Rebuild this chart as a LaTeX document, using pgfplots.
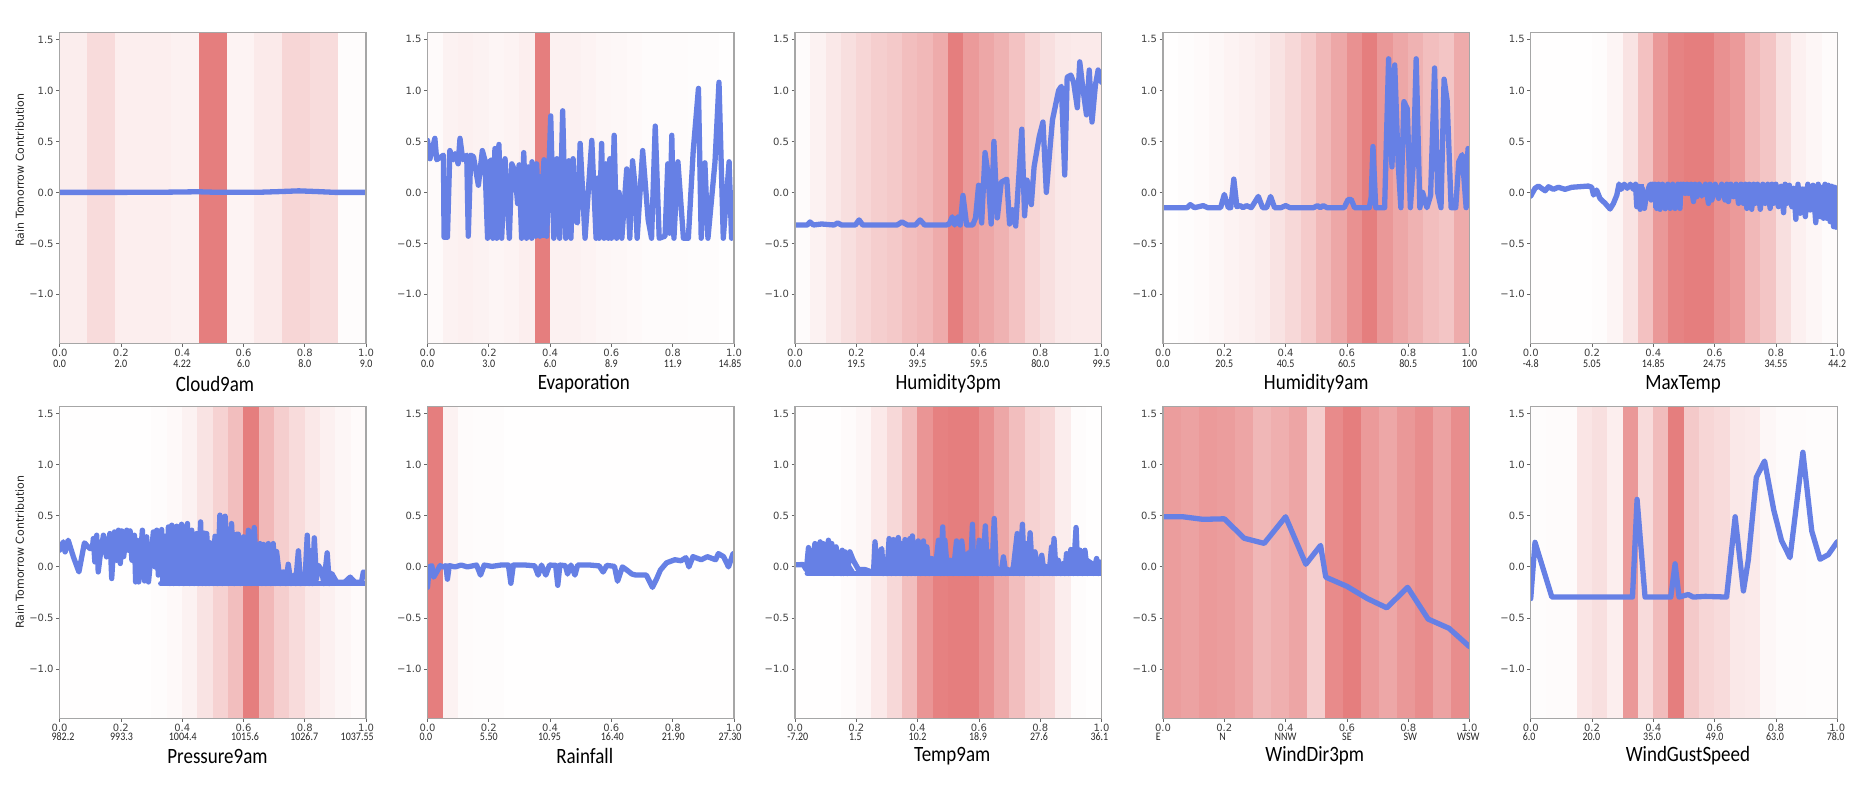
\documentclass[border=0pt]{standalone}
\usepackage{fontspec}
\setmainfont{DejaVu Sans}
\newfontfamily\carlito{Carlito}
\usepackage{pgfplots}
\pgfplotsset{compat=1.18}

\definecolor{bandred}{HTML}{E57E7E}
\definecolor{lineblue}{HTML}{6680E5}

% one px of the reference = 1pt here
\newcommand\ttl[1]{\scalebox{1}[1.15]{#1}}
\pgfplotsset{
  panel/.style n args={3}{
    at={(#1pt,#2pt)}, anchor=south west, scale only axis,
    width=306.5pt, height=#3pt,
    xmin=0, xmax=1, ymin=-1.48, ymax=1.57,
    xtick={0,0.2,0.4,0.6,0.8,1},
    xticklabels={0.0,0.2,0.4,0.6,0.8,1.0},
    ytick={-1,-0.5,0,0.5,1,1.5},
    yticklabels={−1.0,−0.5,0.0,0.5,1.0,1.5},
    tick align=outside, tick pos=left, axis on top,
    major tick length=3.5pt,
    tick style={black!60,line width=.8pt},
    axis line style={black!35,line width=1.3pt},
    tick label style={font=\fontsize{10}{10}\selectfont,text=black!75},
    xticklabel style={yshift=1pt},
    yticklabel style={xshift=1pt},
    xlabel style={font=\carlito\fontsize{19}{20}\selectfont,anchor=center},
    ylabel style={font=\fontsize{11}{12}\selectfont,anchor=center,text=black!85},
  },
  top/.style={xlabel style={at={(axis description cs:#1,-.131)}},
    ylabel style={at={(axis description cs:-.13,.557)}}},
  bot/.style={xlabel style={at={(axis description cs:#1,-.121)}},
    ylabel style={at={(axis description cs:-.13,.532)}}},
  sub/.style 2 args={after end axis/.code={%
    \foreach \p/\t in {#2}{%
      \node[font=\carlito\fontsize{10}{10}\selectfont,text=black!85]
        at (axis description cs:\p,0) [yshift=-#1pt] {\ttl{\t}};}}},
  series/.style={lineblue,line width=5.3pt,line join=round,line cap=round,no markers},
  solid part/.style={forget plot,fill=lineblue,draw=none,no markers},
}

% equal-width bins, shade of each bin in percent of the darkest red
\newcounter{bandno}
\newcommand\bands[2]{%
  \setcounter{bandno}{0}%
  \pgfplotsforeachungrouped \pct in {#2}{%
    \pgfmathsetmacro\xa{\thebandno/#1}%
    \stepcounter{bandno}%
    \pgfmathsetmacro\xb{\thebandno/#1}%
    \edef\doband{\noexpand\addplot[forget plot,draw=bandred!\pct,fill=bandred!\pct,line width=.3pt]
      coordinates {(\xa,-1.48)(\xb,-1.48)(\xb,1.57)(\xa,1.57)} -- cycle;}%
    \doband}}

\begin{document}
\begin{tikzpicture}
\path[use as bounding box] (0,0) rectangle (1862pt,794pt);

% ---------- top row ----------
\begin{axis}[panel={59.6}{450.7}{311},top=.507,xlabel={\ttl{Cloud9am}},ylabel={Rain Tomorrow Contribution},
  sub={20.7}{0/0.0,.2/2.0,.4/4.22,.6/6.0,.8/8.0,1/9.0}]
\bands{11}{14,28,13,13,11,100,9,16,32,27,2}
\addplot[series] coordinates {(0,0)(.2,0)(.35,.002)(.45,.006)(.5,.002)(.65,.001)(.72,.008)(.78,.015)(.84,.008)(.9,0)(1,0)};
\end{axis}

\begin{axis}[panel={427.5}{450.7}{311},top=.51,xlabel={\ttl{Evaporation}},
  sub={20.7}{0/0.0,.2/3.0,.4/6.0,.6/8.9,.8/11.9,.987/14.85}]
\bands{20}{4,10,12,10,8,9,13,100,11,11,9,7,6,5,3,3,3,2,2,1}
\addplot[solid part] coordinates {(.196,-.45)(.25,-.45)(.25,.28)(.196,.28)} -- cycle;
\addplot[solid part] coordinates {(.3,-.45)(.395,-.45)(.395,.18)(.3,.18)} -- cycle;
\addplot[series] coordinates {(0,.51)(.008,.33)(.024,.53)(.03,.32)(.052,.365)(.054,-.44)(.065,-.44)(.073,.41)(.084,.32)(.09,.38)(.1,.28)(.106,.53)(.115,.32)(.128,.365)(.133,-.43)(.141,.365)(.15,.35)(.166,.07)(.179,.41)(.187,.32)(.196,-.45)(.202,.3)(.209,.32)(.213,-.45)(.22,.43)(.226,-.45)(.233,.47)(.242,-.45)(.253,.33)(.267,-.45)(.275,.28)(.285,.21)(.294,-.11)(.299,.27)(.307,-.45)(.314,.39)(.323,-.45)(.329,.25)(.34,-.45)(.341,.3)(.353,-.43)(.356,.28)(.367,-.43)(.38,.32)(.389,-.43)(.402,.75)(.412,-.45)(.422,.33)(.431,-.45)(.441,.8)(.451,-.45)(.461,.31)(.468,-.45)(.475,.33)(.482,-.27)(.489,-.3)(.498,.48)(.514,-.45)(.536,.51)(.55,-.45)(.554,.14)(.56,-.45)(.568,.48)(.576,-.45)(.582,.28)(.59,-.45)(.595,.33)(.6,-.45)(.609,.56)(.617,-.45)(.625,.0)(.634,-.45)(.65,.23)(.66,-.45)(.669,.31)(.676,.1)(.684,-.45)(.702,.41)(.72,-.27)(.731,-.45)(.743,.65)(.756,-.45)(.775,-.43)(.784,.28)(.79,-.4)(.797,.56)(.804,-.45)(.817,.3)(.835,-.45)(.851,-.45)(.867,.41)(.884,1.02)(.893,-.45)(.905,.29)(.915,-.45)(.938,.3)(.951,1.08)(.965,-.45)(.984,.3)(.992,-.45)(1,.0)};
\end{axis}

\begin{axis}[panel={795}{450.7}{311},top=.5,xlabel={\ttl{Humidity3pm}},
  sub={20.7}{0/0.0,.2/19.5,.4/39.5,.6/59.5,.8/80.0,1/99.5}]
\bands{20}{3,10,18,25,32,38,42,50,55,65,100,78,68,60,47,32,25,18,16,16}
\addplot[series] coordinates {(0,-.32)(.04,-.32)(.049,-.29)(.06,-.32)(.087,-.31)(.127,-.32)(.139,-.3)(.152,-.32)(.197,-.32)(.209,-.27)(.221,-.32)(.333,-.32)(.349,-.29)(.367,-.32)(.393,-.32)(.408,-.27)(.423,-.32)(.493,-.32)(.503,-.31)(.513,-.24)(.521,-.32)(.531,-.24)(.539,-.32)(.548,-.03)(.56,-.32)(.58,-.32)(.589,-.25)(.599,.07)(.609,-.3)(.62,.39)(.629,.2)(.64,-.31)(.649,.5)(.66,-.25)(.673,.1)(.691,.13)(.7,-.31)(.709,-.17)(.72,-.33)(.74,.62)(.749,-.23)(.757,.12)(.771,-.12)(.78,.25)(.797,.55)(.809,.69)(.82,.0)(.831,.4)(.84,.71)(.86,1.0)(.869,1.04)(.88,.17)(.888,1.13)(.9,1.15)(.909,1.08)(.921,.83)(.929,1.28)(.94,1.0)(.951,.76)(.96,1.2)(.969,.69)(.98,1.05)(.989,1.2)(1,1.08)};
\end{axis}

\begin{axis}[panel={1163}{450.7}{311},top=.5,xlabel={\ttl{Humidity9am}},
  sub={20.7}{0/0.0,.2/20.5,.4/40.5,.6/60.5,.8/80.5,1/100}]
\bands{20}{1,2,4,6,9,12,15,22,30,40,55,68,85,100,80,68,60,50,45,65}
\addplot[series] coordinates {(0,-.15)(.079,-.15)(.089,-.12)(.103,-.15)(.131,-.13)(.146,-.15)(.188,-.15)(.2,-.02)(.213,-.15)(.221,-.15)(.231,.13)(.241,-.14)(.252,-.13)(.261,-.15)(.272,-.13)(.288,-.15)(.311,-.04)(.325,-.15)(.338,-.15)(.351,-.04)(.364,-.15)(.385,-.15)(.4,-.13)(.414,-.15)(.491,-.15)(.504,-.13)(.513,-.15)(.523,-.13)(.535,-.15)(.591,-.15)(.604,-.07)(.614,-.07)(.625,-.15)(.673,-.15)(.679,-.05)(.685,.45)(.694,-.15)(.723,-.15)(.736,1.31)(.747,.25)(.756,1.25)(.767,.3)(.776,-.15)(.786,.89)(.797,.82)(.807,-.15)(.817,.3)(.826,1.31)(.838,-.15)(.847,0)(.861,-.15)(.873,-.03)(.886,1.22)(.896,0)(.907,-.15)(.917,1.11)(.927,.9)(.94,-.15)(.955,-.15)(.965,.3)(.976,.37)(.989,-.15)(.995,.43)(1,0)};
\end{axis}

\begin{axis}[panel={1530.7}{450.7}{311},top=.497,xlabel={\ttl{MaxTemp}},
  sub={20.7}{0/-4.8,.2/5.05,.4/14.85,.6/24.75,.8/34.55,1/44.2}]
\bands{20}{1,1,1,1,2,8,22,48,80,96,100,100,85,78,55,45,25,12,7,3}
\addplot[solid part] coordinates {(.345,.08)(.371,.08)(.371,-.14)(.345,-.14)} -- cycle;
\addplot[solid part] coordinates {(.4,.08)(.487,.08)(.487,-.15)(.4,-.15)} -- cycle;
\addplot[solid part] coordinates {(.49,.08)(1,.05)(1,-.2)(.9,-.13)(.8,-.1)(.7,-.06)(.6,-.02)(.49,.01)} -- cycle;
\addplot[series] coordinates {(0,-.036)(.014,.04)(.025,.062)(.047,.016)(.058,.055)(.074,.03)(.09,.05)(.112,.03)(.134,.05)(.188,.062)(.199,.05)(.205,-.026)(.215,.023)(.226,-.059)(.243,-.108)(.259,-.163)(.27,-.108)(.281,-.026)(.288,.082)(.295,.03)(.305,.08)(.315,.04)(.325,.08)(.335,.03)(.342,.08)(.346,-.14)(.352,.06)(.357,-.166)(.364,.04)(.371,-.157)(.375,-.075)(.386,.055)(.39,.08)(.393,-.075)(.397,.08)(.4,-.042)(.405,.08)(.411,-.157)(.417,.08)(.422,-.166)(.43,.08)(.439,-.16)(.447,.08)(.455,-.157)(.463,.08)(.471,-.157)(.48,.08)(.487,-.157)(.49,.08)(.493,.007)(.498,.08)(.504,-.01)(.51,.08)(.515,-.01)(.523,.08)(.531,-.09)(.536,.08)(.542,-.042)(.55,.08)(.558,-.036)(.57,.08)(.58,-.108)(.585,.08)(.591,-.075)(.602,.08)(.613,-.059)(.623,.08)(.634,-.075)(.64,.08)(.645,-.09)(.653,.08)(.662,-.042)(.67,.08)(.678,-.108)(.686,.08)(.694,-.108)(.7,.08)(.705,-.157)(.713,.08)(.721,-.166)(.727,.08)(.732,-.108)(.74,.08)(.749,-.166)(.757,.08)(.765,-.108)(.773,.08)(.781,-.157)(.787,.08)(.792,-.108)(.8,.08)(.808,-.14)(.817,.06)(.825,-.199)(.83,.08)(.836,-.108)(.844,.07)(.852,-.14)(.858,.04)(.865,-.264)(.872,.08)(.879,-.205)(.887,.03)(.896,-.238)(.904,.08)(.912,-.173)(.921,.07)(.93,-.297)(.938,.08)(.945,-.238)(.95,.05)(.955,-.254)(.96,.08)(.966,-.254)(.971,.07)(.977,-.287)(.982,.06)(.988,-.336)(.992,.05)(.996,-.342)(1,.04)};
\end{axis}

% ---------- bottom row ----------
\begin{axis}[panel={59.6}{75.7}{312},bot=.515,xlabel={\ttl{Pressure9am}},ylabel={Rain Tomorrow Contribution},
  sub={18.7}{.011/982.2,.202/993.3,.402/1004.4,.605/1015.6,.798/1026.7,.971/1037.55}]
\bands{20}{1,1,1,1,1,1,2,5,10,22,35,50,100,55,38,28,18,12,7,4}
\addplot[solid part] coordinates {(.335,-.163)(.335,.25)(.4,.3)(.46,.3)(.5,.25)(.6,.25)(.64,.22)(.7,.18)(.72,-.163)} -- cycle;
\addplot[series,forget plot] coordinates {(.33,-.163)(1,-.163)};
\addplot[series] coordinates {(0,.163)(.012,.245)(.018,.147)(.028,.261)(.045,.098)(.063,-.049)(.081,.235)(.099,.179)(.107,.179)(.11,.277)(.115,.049)(.121,.31)(.126,-.049)(.132,.1)(.143,.31)(.153,.098)(.164,.326)(.17,-.114)(.179,.342)(.186,.065)(.192,.359)(.198,.033)(.203,.352)(.209,.1)(.219,.359)(.224,.163)(.23,.352)(.236,.065)(.244,.31)(.248,-.147)(.252,.261)(.258,-.147)(.27,.359)(.277,-.137)(.284,.294)(.29,-.147)(.306,.342)(.311,.0)(.317,.359)(.322,-.08)(.333,.365)(.337,-.16)(.344,.3)(.348,-.16)(.355,.391)(.36,-.163)(.366,.408)(.372,-.163)(.382,.398)(.39,-.163)(.398,.417)(.405,-.163)(.417,.424)(.424,-.163)(.431,.359)(.439,-.163)(.447,.326)(.453,-.163)(.46,.44)(.466,-.163)(.473,.33)(.477,-.163)(.48,.326)(.488,-.163)(.496,.228)(.501,-.163)(.507,.3)(.515,-.163)(.523,.506)(.531,-.163)(.54,.496)(.55,-.163)(.561,.424)(.57,-.163)(.578,.32)(.583,.32)(.59,-.163)(.6,.294)(.608,-.163)(.616,.359)(.625,-.163)(.635,.385)(.645,-.163)(.654,.228)(.66,-.163)(.665,.22)(.673,-.163)(.681,.228)(.689,-.163)(.697,.228)(.703,-.163)(.708,.15)(.72,-.163)(.73,-.049)(.738,-.163)(.746,.026)(.755,-.163)(.763,-.082)(.77,-.163)(.779,.157)(.786,-.163)(.792,-.124)(.8,-.163)(.808,.31)(.814,-.163)(.819,.157)(.825,-.163)(.831,.284)(.838,-.12)(.844,.016)(.855,-.033)(.862,-.163)(.873,.137)(.88,-.163)(.888,-.065)(.904,-.15)(.93,-.15)(.948,-.1)(.964,-.15)(.985,-.15)(.991,-.05)(1,-.06)};
\end{axis}

\begin{axis}[panel={427.5}{75.7}{312},bot=.513,xlabel={\ttl{Rainfall}},
  sub={18.7}{-.005/0.0,.2/5.50,.398/10.95,.603/16.40,.802/21.90,.987/27.30}]
\bands{20}{100,10,3,2,2,1,1,1,1,1,1,1,1,1,1,1,1,1,1,1}
\addplot[series] coordinates {(0,-.2)(.006,.0)(.014,.012)(.02,-.1)(.03,-.05)(.041,.012)(.05,-.0)(.06,.012)(.065,-.12)(.071,.012)(.09,.0)(.11,.018)(.13,.0)(.16,.018)(.173,-.08)(.185,.018)(.21,.005)(.24,.018)(.264,.018)(.272,-.16)(.28,.018)(.32,.018)(.35,.01)(.361,-.08)(.372,.018)(.386,-.08)(.398,.018)(.418,.015)(.425,-.18)(.432,.018)(.45,.012)(.457,-.07)(.468,.018)(.481,-.08)(.49,.018)(.53,.018)(.56,.01)(.573,-.05)(.585,.015)(.61,.005)(.62,-.14)(.636,.0)(.65,-.03)(.667,-.07)(.68,-.08)(.694,-.08)(.714,-.08)(.734,-.2)(.747,-.12)(.76,-.03)(.78,.04)(.807,.07)(.827,.06)(.843,.09)(.853,.0)(.866,.1)(.893,.07)(.913,.1)(.94,.07)(.949,.13)(.966,.1)(.982,.0)(.997,.13)(1,.12)};
\end{axis}

\begin{axis}[panel={795}{75.7}{312},bot=.513,xlabel={\ttl{Temp9am}},
  sub={18.7}{.009/-7.20,.197/1.5,.4/10.2,.597/18.9,.796/27.6,.993/36.1}]
\bands{20}{1,1,1,3,7,17,30,50,82,98,100,100,85,68,50,35,30,14,2,1}
\addplot[solid part] coordinates {(.05,-.065)(.06,.1)(.13,.12)(.145,-.065)(.15,.03)(.18,.03)(.2,-.065)(.25,-.065)(.26,.1)(.3,.1)(.31,.2)(.43,.2)(.44,.0)(.47,.2)(.49,.2)(.5,.0)(.53,.2)(.545,.2)(.56,.03)(.6,.1)(.62,.2)(.63,.0)(.66,.0)(.7,-.03)(.725,.2)(.76,.2)(.79,.05)(.86,.0)(.9,.1)(.95,.1)(1,.0)(1,-.065)} -- cycle;
\addplot[series,forget plot] coordinates {(.04,-.065)(1,-.065)};
\addplot[series] coordinates {(0,.02)(.027,.023)(.037,-.03)(.044,.189)(.054,-.049)(.06,.1)(.065,.228)(.072,-.05)(.082,.245)(.087,-.05)(.092,.228)(.1,-.05)(.109,.261)(.115,-.06)(.12,.228)(.127,-.065)(.134,.196)(.145,-.026)(.15,-.065)(.154,.163)(.158,-.065)(.163,.147)(.171,-.065)(.179,.147)(.19,.065)(.207,-.026)(.228,-.026)(.25,-.049)(.256,-.065)(.261,.245)(.268,-.06)(.277,.147)(.283,.179)(.288,-.065)(.294,.065)(.3,-.065)(.307,.277)(.314,-.065)(.321,.267)(.329,-.065)(.337,.287)(.343,-.065)(.348,.228)(.353,-.065)(.359,.267)(.367,-.065)(.375,.277)(.379,-.065)(.383,.303)(.392,-.065)(.402,.254)(.41,-.065)(.419,.254)(.425,-.065)(.43,.196)(.438,-.065)(.446,.082)(.456,-.065)(.468,.261)(.475,-.065)(.482,.391)(.486,-.065)(.489,.261)(.498,-.065)(.506,.065)(.516,-.065)(.527,.254)(.535,-.065)(.544,.254)(.555,-.065)(.566,.137)(.572,-.065)(.579,.417)(.583,-.065)(.587,.13)(.594,-.065)(.601,.261)(.611,-.065)(.621,.401)(.628,-.065)(.634,.147)(.642,-.065)(.65,.473)(.657,-.065)(.663,-.033)(.672,-.065)(.68,.098)(.688,-.065)(.696,-.026)(.71,-.065)(.725,.326)(.733,-.065)(.742,.417)(.748,-.065)(.754,.228)(.76,-.065)(.767,.333)(.775,-.065)(.783,.147)(.794,-.065)(.805,.114)(.813,-.065)(.821,-.016)(.829,-.065)(.837,.196)(.841,-.065)(.845,.277)(.852,-.065)(.859,.065)(.867,-.065)(.875,.033)(.88,-.065)(.886,.13)(.893,-.065)(.9,.17)(.908,-.065)(.917,.385)(.923,-.065)(.93,.163)(.938,-.065)(.946,.163)(.954,-.065)(.962,.016)(.973,-.065)(.984,.082)(.99,-.065)(.995,.05)(1,.03)};
\end{axis}

\begin{axis}[panel={1163}{75.7}{312},bot=.495,xlabel={\ttl{WindDir3pm}},
  sub={18.7}{-.015/E,.194/N,.4/NNW,.6/SE,.807/SW,.996/WSW}]
\bands{17}{76,72,78,76,70,56,62,70,38,90,100,78,68,80,88,72,88}
\addplot[series] coordinates {(0,.49)(.065,.49)(.13,.465)(.2,.47)(.265,.28)(.33,.23)(.4,.49)(.466,.026)(.514,.21)(.531,-.1)(.6,-.19)(.667,-.31)(.73,-.4)(.798,-.2)(.865,-.51)(.933,-.6)(1,-.78)};
\end{axis}

\begin{axis}[panel={1530.7}{75.7}{312},bot=.513,xlabel={\ttl{WindGustSpeed}},
  sub={18.7}{-.005/6.0,.198/20.0,.396/35.0,.6/49.0,.797/63.0,.995/78.0}]
\bands{20}{2,3,3,20,25,13,80,28,52,100,42,32,28,18,16,6,3,3,2,2}
\addplot[series] coordinates {(0,-.31)(.014,.24)(.069,-.295)(.332,-.295)(.347,.66)(.373,-.295)(.457,-.295)(.471,.03)(.484,-.295)(.514,-.27)(.53,-.295)(.57,-.288)(.639,-.295)(.667,.49)(.694,-.235)(.71,.07)(.736,.875)(.763,1.035)(.793,.555)(.818,.26)(.846,.09)(.888,1.12)(.917,.35)(.944,.075)(.971,.12)(1,.245)};
\end{axis}
\end{tikzpicture}
\end{document}
